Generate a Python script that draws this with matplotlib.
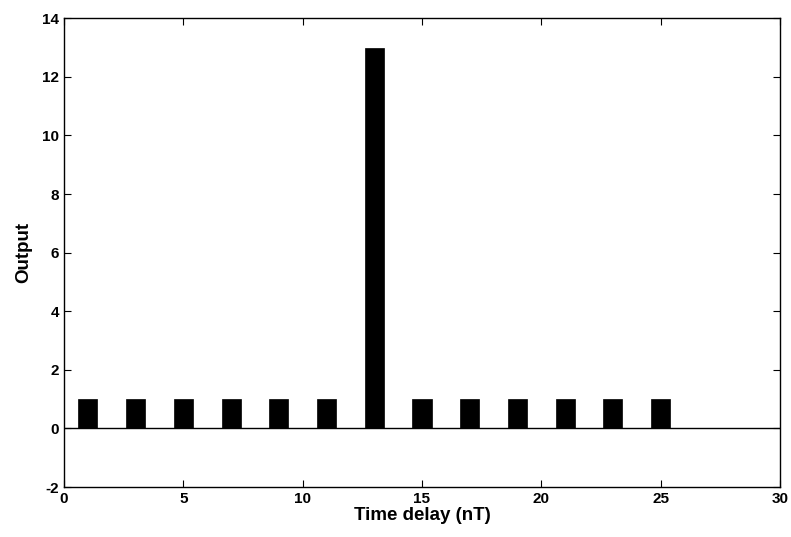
import matplotlib
matplotlib.use('Agg')
import matplotlib.pyplot as plt
import numpy as np

plt.rcParams['font.family'] = ['Liberation Sans', 'DejaVu Sans']
plt.rcParams['font.weight'] = 'bold'
plt.rcParams['axes.unicode_minus'] = False

delays = [1, 3, 5, 7, 9, 11, 13, 15, 17, 19, 21, 23, 25]
outputs = [1, 1, 1, 1, 1, 1, 13, 1, 1, 1, 1, 1, 1]
xticks = [0, 5, 10, 15, 20, 25, 30]
yticks = [-2, 0, 2, 4, 6, 8, 10, 12, 14]

fig = plt.figure(figsize=(7.91, 5.37), dpi=100)
ax = fig.add_axes([0.081, 0.093, 0.905, 0.873])

ax.bar(delays, outputs, width=0.8, color='black', edgecolor='black', linewidth=0.5)
ax.axhline(0, color='black', linewidth=1)

ax.set_xlim(0, 30)
ax.set_ylim(-2, 14)
ax.set_xticks(xticks)
ax.set_yticks(yticks)
ax.tick_params(direction='in', top=True, right=True, labelsize=11, length=5, width=0.8)
for lbl in ax.get_xticklabels() + ax.get_yticklabels():
    lbl.set_fontweight('bold')
for s in ax.spines.values():
    s.set_linewidth(1)

ax.set_xlabel('Time delay (nT)', fontsize=13.5, fontweight='bold', labelpad=1)
ax.set_ylabel('Output', fontsize=13.5, fontweight='bold', labelpad=7)

plt.savefig('out.png', dpi=100)
